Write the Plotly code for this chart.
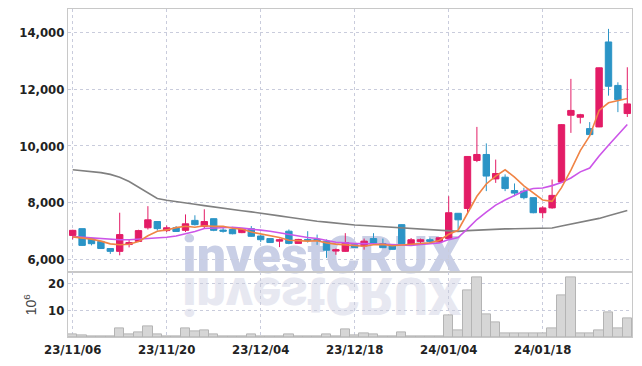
import plotly.graph_objects as go
from plotly.subplots import make_subplots

dates = ["23/11/06","23/11/07","23/11/08","23/11/09","23/11/10","23/11/13","23/11/14","23/11/15","23/11/16","23/11/17",
         "23/11/20","23/11/21","23/11/22","23/11/23","23/11/24","23/11/27","23/11/28","23/11/29","23/11/30","23/12/01",
         "23/12/04","23/12/05","23/12/06","23/12/07","23/12/08","23/12/11","23/12/12","23/12/13","23/12/14","23/12/15",
         "23/12/18","23/12/19","23/12/20","23/12/21","23/12/22","23/12/26","23/12/27","23/12/28","24/01/02","24/01/03",
         "24/01/04","24/01/05","24/01/08","24/01/09","24/01/10","24/01/11","24/01/12","24/01/15","24/01/16","24/01/17",
         "24/01/18","24/01/19","24/01/22","24/01/23","24/01/24","24/01/25","24/01/26","24/01/29","24/01/30","24/01/31"]

open_ = [6850,7090,6740,6640,6390,6290,6530,6640,7120,7340,
         7020,7120,7030,7380,7170,7440,7040,7060,6950,7090,
         6830,6740,6650,7000,6570,6710,6710,6650,6300,6290,
         6520,6480,6740,6560,6520,7230,6520,6640,6700,6620,
         6740,7630,7800,9490,9700,8840,8900,8430,8410,8180,
         7650,7820,8730,11080,11010,10610,10670,13660,12130,11140]
high = [7050,7090,6740,6650,6390,7650,6710,7050,7880,7350,
        7200,7180,7590,7560,7770,7450,7150,7150,7100,7180,
        6880,6740,6740,7060,6730,7000,6880,6710,6390,6930,
        6540,6740,6930,6740,6540,7240,6760,6740,6770,6780,
        8230,7640,9640,10670,10090,9520,9000,8680,8530,8190,
        7880,8820,10770,12360,11130,10840,12760,14120,12240,12770]
low = [6710,6480,6500,6380,6200,6150,6430,6620,7060,7020,
       6970,6990,6970,7200,7090,7000,6950,6890,6930,6800,
       6620,6590,6440,6540,6560,6600,6520,6060,6170,6270,
       6420,6350,6560,6410,6350,6550,6510,6520,6580,6610,
       6700,7060,7650,9430,8410,8700,8410,8230,8120,7630,
       7450,7790,8710,10460,10790,10390,10660,11770,11190,11020]
close = [7030,6500,6560,6390,6290,6880,6600,7020,7400,7090,
         7120,6990,7260,7230,7340,7030,7000,6910,7090,6820,
         6700,6600,6700,6570,6710,6670,6670,6330,6350,6600,
         6430,6650,6580,6420,6360,6560,6700,6700,6640,6770,
         7650,7400,9630,9700,8940,9030,8500,8340,8180,7650,
         7820,8260,10750,11250,11100,10400,12750,12100,11630,11480]

ma5 = [6800,6760,6720,6650,6553,6523,6542,6633,6837,6996,
       7045,7124,7174,7138,7190,7171,7173,7102,7074,6969,
       6904,6823,6781,6678,6657,6650,6664,6589,6544,6521,
       6474,6472,6523,6537,6490,6516,6525,6549,6593,6675,
       6893,7033,7618,8229,8663,8939,9160,8902,8597,8339,
       8098,8049,8532,9146,9837,10353,11251,11520,11597,11672]
ma10 = [6810,6790,6760,6730,6710,6700,6700,6720,6750,6775,
        6784,6833,6903,6988,7093,7108,7149,7138,7106,7080,
        7037,6998,6942,6876,6813,6777,6743,6685,6611,6589,
        6562,6568,6556,6541,6506,6495,6499,6536,6565,6583,
        6704,6779,7083,7411,7669,7916,8096,8260,8413,8501,
        8518,8604,8717,8871,9088,9225,9650,10026,10372,10755]
ma60 = [9160,9130,9100,9060,9000,8900,8750,8550,8330,8150,
        8090,8050,8000,7950,7900,7850,7810,7760,7720,7680,
        7640,7590,7540,7490,7440,7390,7350,7320,7280,7250,
        7220,7200,7180,7160,7140,7120,7100,7080,7050,7030,
        7010,6995,7020,7040,7060,7070,7080,7085,7090,7100,
        7105,7110,7180,7250,7310,7370,7450,7540,7630,7730]

volume = [0.8,0.7,0.4,0.3,0.3,3.4,0.8,1.7,3.8,0.8,
          0.4,0.4,3.4,2.1,2.4,0.8,0.4,0.4,0.4,0.8,
          0.4,0.4,0.4,0.8,0.4,0.4,0.4,0.8,0.4,3.0,
          0.5,1.2,0.8,0.4,0.4,1.9,0.4,0.4,0.4,0.4,
          7.9,2.6,17.3,22.1,8.3,5.3,1.5,1.5,1.5,1.2,
          1.2,3.4,15.5,22.1,1.2,1.2,2.3,9.0,3.4,7.1]

tick_dates = ["23/11/06","23/11/20","23/12/04","23/12/18","24/01/04","24/01/18"]
price_ticks = [6000, 8000, 10000, 12000, 14000]
vol_ticks = [10, 20]

UP = "#e31c66"
DOWN = "#2b94c6"
GRID = "#c9ccdc"
FRAME = "#c8c8c8"
TICKFONT = dict(family="DejaVu Sans", size=13, color="#222222", weight="bold")

fig = make_subplots(rows=2, cols=1, shared_xaxes=True, vertical_spacing=0,
                    row_heights=[0.803, 0.197])

fig.add_trace(go.Candlestick(x=dates, open=open_, high=high, low=low, close=close,
                             increasing=dict(line=dict(color=UP, width=1), fillcolor=UP),
                             decreasing=dict(line=dict(color=DOWN, width=1), fillcolor=DOWN),
                             whiskerwidth=0, showlegend=False), row=1, col=1)
fig.add_trace(go.Scatter(x=dates, y=ma60, mode="lines", line=dict(color="#808080", width=1.6),
                         showlegend=False), row=1, col=1)
fig.add_trace(go.Scatter(x=dates, y=ma10, mode="lines", line=dict(color="#cc55e8", width=1.6),
                         showlegend=False), row=1, col=1)
fig.add_trace(go.Scatter(x=dates, y=ma5, mode="lines", line=dict(color="#f08445", width=1.6),
                         showlegend=False), row=1, col=1)
fig.add_trace(go.Bar(x=dates, y=volume, width=1, marker=dict(color="#d6d6d6", line=dict(color="#b4b4b4", width=1)),
                     showlegend=False), row=2, col=1)

# watermark (below data) + reflection
fig.add_shape(type="rect", xref="paper", yref="paper", x0=0.15, x1=0.75, y0=0.22, y1=0.30,
              line=dict(width=0), fillcolor="rgba(0,0,0,0)", layer="below",
              label=dict(text="investCRUX", textposition="middle center",
                         font=dict(family="Roboto", size=52, color="#c9cfe6", weight=900)))
fig.add_shape(type="rect", xref="paper", yref="paper", x0=0.15, x1=0.75, y0=0.10, y1=0.18,
              line=dict(width=0), fillcolor="rgba(0,0,0,0)", layer="below",
              label=dict(text="investCRUX", textposition="middle center",
                         font=dict(family="Roboto", size=52, color="#e7e8f1", weight=900)))

fig.update_layout(
    width=642, height=366,
    margin=dict(l=68, r=10, t=9, b=29),
    paper_bgcolor="white", plot_bgcolor="white",
    showlegend=False, bargap=0, boxgap=0.15, boxgroupgap=0.2,
    xaxis_rangeslider_visible=False,
)
for r in (1, 2):
    fig.update_xaxes(type="category", range=[-0.5, 59.5], tickmode="array", tickvals=tick_dates,
                     showgrid=True, gridcolor=GRID, griddash="dot", gridwidth=1,
                     showline=True, linecolor=FRAME, mirror=True, ticks="",
                     tickfont=TICKFONT, row=r, col=1)
fig.update_xaxes(showticklabels=False, rangeslider_visible=False, row=1, col=1)
fig.update_xaxes(showticklabels=True, row=2, col=1)

fig.update_yaxes(range=[5550, 14820], tickmode="array", tickvals=price_ticks, tickformat=",d",
                 showgrid=True, gridcolor=GRID, griddash="dot", gridwidth=1, zeroline=False,
                 showline=True, linecolor=FRAME, mirror=True, ticks="", tickfont=TICKFONT, row=1, col=1)
fig.update_yaxes(range=[0, 24.1], tickmode="array", tickvals=vol_ticks,
                 showgrid=True, gridcolor=GRID, griddash="dot", gridwidth=1, zeroline=False,
                 showline=True, linecolor=FRAME, mirror=True, ticks="", tickfont=TICKFONT,
                 title=dict(text="10<sup>6</sup>", font=dict(family="Liberation Sans", size=14, color="#444444"),
                            standoff=6),
                 row=2, col=1)

post = """
document.body.style.margin = '0';
document.body.style.padding = '0';
document.querySelectorAll('.xtick text, .ytick text, .y2tick text, .x2tick text').forEach(function(t){
  t.style.fontStretch = 'condensed';
});
var els = document.querySelectorAll('.shape-label text, text.label-text, .shape-group text');
if (els.length > 1) {
  var el = els[els.length - 1];
  el.style.transformBox = 'fill-box';
  el.style.transformOrigin = 'center';
  el.style.transform = 'scaleY(-1)';
}
"""
fig.write_html("out.html", post_script=post, config={"displayModeBar": False})
